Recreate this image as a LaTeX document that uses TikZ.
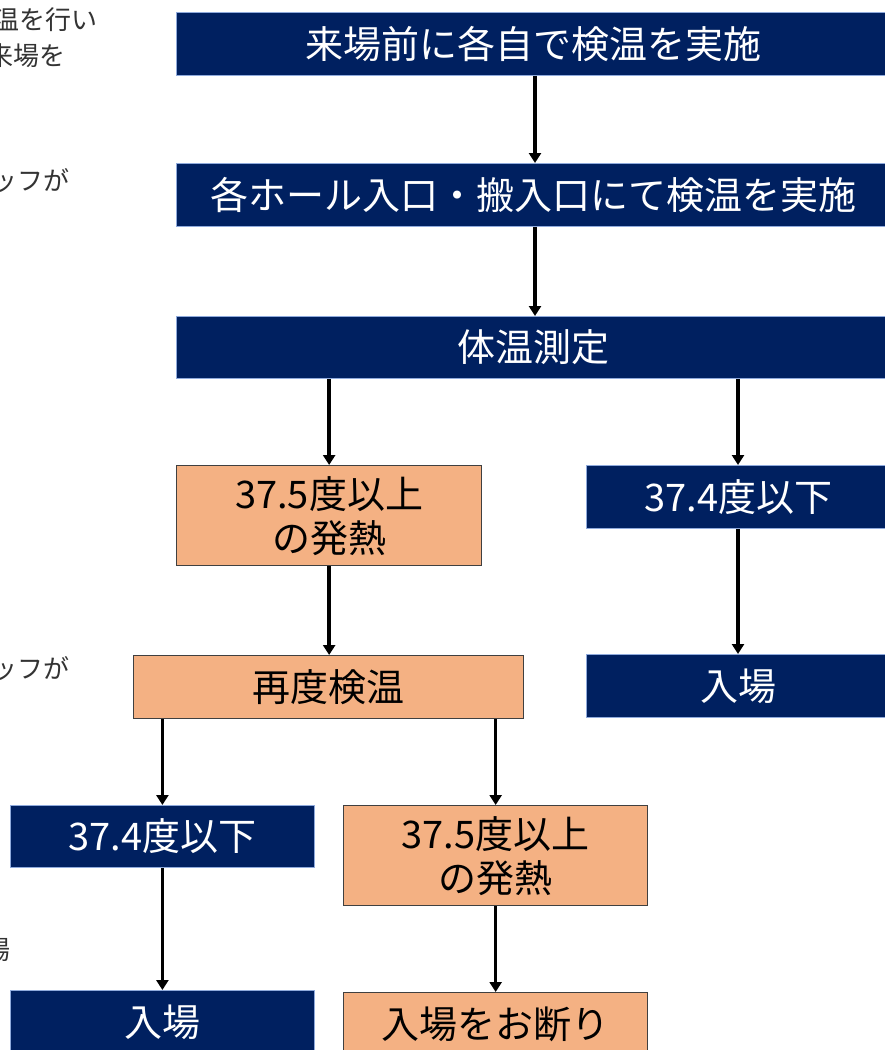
\documentclass[tikz,border=0pt]{standalone}
\usepackage{fontspec}
\newfontfamily\cjk{Noto Sans CJK JP}
\usetikzlibrary{arrows.meta}
\definecolor{navy}{HTML}{002060}
\definecolor{navyedge}{HTML}{8FAADC}
\definecolor{peach}{HTML}{F4B183}
\definecolor{peachedge}{HTML}{404040}
\definecolor{note}{HTML}{333333}
\tikzset{
  navybox/.style={draw=navyedge, line width=0.8pt, fill=navy, text=white, anchor=north west,
    inner sep=0pt, font=\cjk\fontsize{38}{44}\selectfont, align=center},
  peachbox/.style={draw=peachedge, line width=1.3pt, fill=peach, text=black, anchor=north west,
    inner sep=0pt, font=\cjk\fontsize{38}{44}\selectfont, align=center},
  flow/.style={line width=3.6pt, -{Triangle[width=12pt,length=10pt]}},
  notetext/.style={text=note, font=\cjk\fontsize{26}{30}\selectfont, inner sep=0pt}
}
\begin{document}
\begin{tikzpicture}[x=1pt,y=-1pt]
\useasboundingbox (0,0) rectangle (885,1050);
% left notes (cut off at the picture's left edge, as in the reference)
\node[notetext, anchor=east] (n1) at (98,20) {温を行い};
\node[notetext, anchor=east] (n2) at (66,56) {来場を};
\node[notetext, anchor=east] (n3) at (70,180) {ッフが};
\node[notetext, anchor=east] (n4) at (70,668) {ッフが};
\node[notetext, anchor=east] (n5) at (11,950) {場};
% boxes
\node[navybox, minimum width=714pt, minimum height=63pt] (b1) at (176,12) {来場前に各自で検温を実施};
\node[navybox, minimum width=714pt, minimum height=63pt] (b2) at (176,163) {各ホール入口・搬入口にて検温を実施};
\node[navybox, minimum width=714pt, minimum height=62pt] (b3) at (176,316) {体温測定};
\node[peachbox, minimum width=305pt, minimum height=100pt] (b4) at (176,465) {37.5度以上\\の発熱};
\node[navybox, minimum width=304pt, minimum height=63pt] (b5) at (586,465) {37.4度以下};
\node[navybox, minimum width=304pt, minimum height=63pt] (b6) at (586,654) {入場};
\node[peachbox, minimum width=390pt, minimum height=63pt] (b7) at (133,655) {再度検温};
\node[navybox, minimum width=304pt, minimum height=62pt] (b8) at (10,805) {37.4度以下};
\node[peachbox, minimum width=304pt, minimum height=100pt] (b9) at (343,805) {37.5度以上\\の発熱};
\node[navybox, minimum width=304pt, minimum height=63pt] (b10) at (10,990) {入場};
\node[peachbox, minimum width=304pt, minimum height=63pt] (b11) at (343,992) {入場をお断り};
% connectors
\draw[flow] (b1.south -| 535,0) -- (b2.north -| 535,0);
\draw[flow] (b2.south -| 535,0) -- (b3.north -| 535,0);
\draw[flow] (b4.north |- b3.south) -- (b4.north);
\draw[flow] (b3.south -| 738,0) -- (b5.north -| 738,0);
\draw[flow] (b5.south -| 738,0) -- (b6.north -| 738,0);
\draw[flow] (b4.south) -- (b7.north -| b4.south);
\draw[flow] (b8.north |- b7.south) -- (b8.north);
\draw[flow] (b9.north |- b7.south) -- (b9.north);
\draw[flow] (b8.south) -- (b10.north);
\draw[flow] (b9.south) -- (b11.north);
\end{tikzpicture}
\end{document}
